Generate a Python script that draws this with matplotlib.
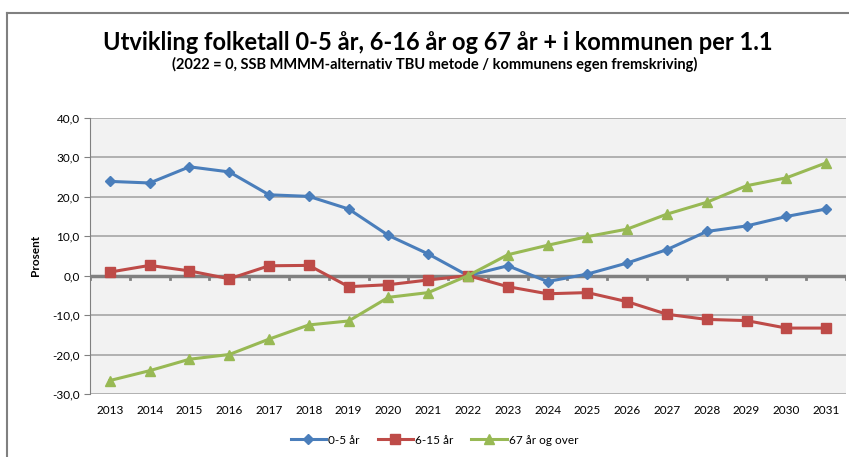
import numpy as np
import matplotlib.pyplot as plt
from matplotlib.lines import Line2D

years = [str(y) for y in range(2013, 2032)]
barn_0_5 = [23.9, 23.5, 27.6, 26.3, 20.5, 20.1, 16.9, 10.2, 5.5, 0.0,
            2.5, -1.5, 0.4, 3.2, 6.6, 11.2, 12.6, 15.0, 16.9]
barn_6_15 = [0.9, 2.6, 1.2, -0.8, 2.5, 2.6, -2.8, -2.3, -1.1, 0.0,
             -2.8, -4.6, -4.3, -6.6, -9.8, -11.1, -11.4, -13.3, -13.3]
eldre_67 = [-26.6, -24.1, -21.2, -20.0, -16.1, -12.5, -11.5, -5.5, -4.3, 0.0,
            5.3, 7.7, 9.9, 11.8, 15.6, 18.6, 22.8, 24.8, 28.6]

plt.rcParams['font.family'] = ['Lato', 'DejaVu Sans']

fig = plt.figure(figsize=(8.49, 4.57), dpi=100)
ax = fig.add_axes([0.106, 0.138, 0.8905, 0.604])
ax.set_facecolor('#F2F2F2')

x = np.arange(len(years))
ax.plot(x, barn_0_5, color='#4A7EBB', marker='D', markersize=5, linewidth=2.2, label='0-5 år', zorder=4)
ax.plot(x, barn_6_15, color='#BE4B48', marker='s', markersize=7, linewidth=2.2, label='6-15 år', zorder=4)
ax.plot(x, eldre_67, color='#98B954', marker='^', markersize=7, linewidth=2.2, label='67 år og over', zorder=4)

ax.set_xlim(-0.5, len(years) - 0.5)
ax.set_ylim(-30, 40)
ax.set_yticks(np.arange(-30, 41, 10))
ax.set_yticklabels([f'{v:.1f}'.replace('.', ',') for v in np.arange(-30, 41, 10)], fontsize=8.5)
ax.yaxis.grid(True, color='#A6A6A6', linewidth=1.2)
ax.set_axisbelow(True)

# zero line with small ticks like the Excel category axis
ax.axhline(0, color='#808080', linewidth=2.5, zorder=3)
for xb in np.arange(-0.5, len(years), 1):
    ax.plot([xb, xb], [0, -0.8], color='#808080', linewidth=2, zorder=3)

ax.set_xticks(x)
ax.set_xticklabels(years, fontsize=8.5)
ax.tick_params(axis='x', length=0, pad=8)
ax.tick_params(axis='y', length=4, color='#808080')
for s in ['top', 'right', 'bottom']:
    ax.spines[s].set_visible(False)
ax.spines['left'].set_color('#808080')
ax.set_ylabel('Prosent', fontsize=8.5, fontweight='bold', labelpad=8)

fig.text(0.516, 0.908, 'Utvikling folketall 0-5 år, 6-16 år og 67 år + i kommunen per 1.1',
         ha='center', va='center', fontsize=17, fontweight='bold')
fig.text(0.512, 0.858, '(2022 = 0, SSB MMMM-alternativ TBU metode / kommunens egen fremskriving)',
         ha='center', va='center', fontsize=10.5, fontweight='bold')

fig.legend(loc='center', bbox_to_anchor=(0.512, 0.037), ncol=3, frameon=False,
           fontsize=8.5, handlelength=3, columnspacing=1.5, handletextpad=0.2)

# outer chart border
fig.add_artist(Line2D([0.008, 0.008], [0.0, 0.972], color='#808080', linewidth=1.5))
fig.add_artist(Line2D([0.008, 1.0], [0.972, 0.972], color='#808080', linewidth=1.5))

fig.savefig('out.png', dpi=100)
